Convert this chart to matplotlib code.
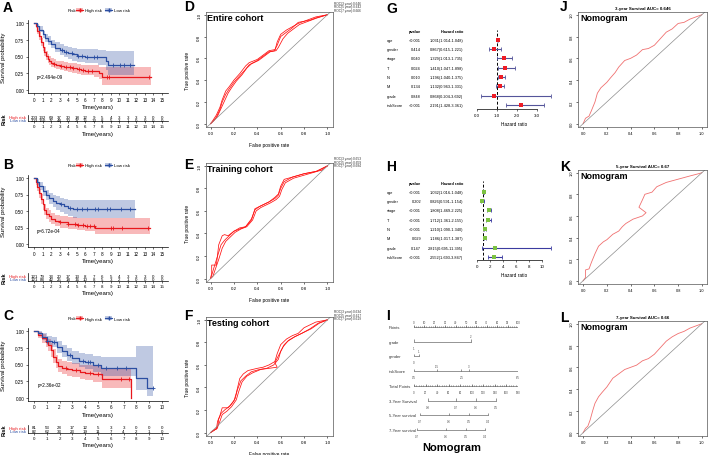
import numpy as np
import matplotlib
matplotlib.use('Agg')
import matplotlib.pyplot as plt
from matplotlib.patches import Patch
from matplotlib.lines import Line2D
from matplotlib.transforms import blended_transform_factory as blend

plt.rcParams['font.family'] = ['Liberation Sans', 'DejaVu Sans']
plt.rcParams['axes.linewidth'] = 0.5

W, H = 709, 456
RED = '#E8171C'
BLUE = '#2B4EA2'

# ---------------- survival curves (time, surv, lower, upper, end, censor) ----------------
A_hi_t = [0, 0.2, 0.4, 0.6, 0.8, 1.0, 1.2, 1.4, 1.6, 1.8, 2.0, 2.3, 2.6, 3.0, 3.5, 4.0, 4.5, 5.0, 5.5, 6.0, 7.0, 7.6, 8.0]
A_hi_s = [1.0, 0.95, 0.88, 0.80, 0.72, 0.64, 0.57, 0.51, 0.47, 0.44, 0.41, 0.39, 0.37, 0.36, 0.35, 0.34, 0.33, 0.31, 0.30, 0.29, 0.28, 0.25, 0.20]
A_hi_lo = [1.0, 0.92, 0.84, 0.75, 0.66, 0.58, 0.51, 0.45, 0.41, 0.38, 0.35, 0.33, 0.31, 0.30, 0.28, 0.27, 0.26, 0.24, 0.23, 0.22, 0.20, 0.16, 0.08]
A_hi_up = [1.0, 0.98, 0.93, 0.86, 0.78, 0.71, 0.64, 0.58, 0.54, 0.51, 0.48, 0.46, 0.44, 0.43, 0.42, 0.41, 0.40, 0.39, 0.38, 0.37, 0.37, 0.35, 0.35]
A_hi_end = 13.7
A_hi_cens = [2.4, 3.2, 3.8, 4.2, 4.6, 5.3, 5.8, 6.3, 6.8, 8.5, 8.8, 13.5]
A_lo_t = [0, 0.3, 0.6, 1.0, 1.3, 1.6, 2.0, 2.5, 3.0, 3.5, 4.0, 4.5, 5.0, 6.0, 7.5, 8.4, 8.7]
A_lo_s = [1.0, 0.95, 0.90, 0.83, 0.78, 0.73, 0.68, 0.63, 0.60, 0.57, 0.55, 0.53, 0.51, 0.50, 0.49, 0.43, 0.37]
A_lo_lo = [1.0, 0.92, 0.86, 0.78, 0.72, 0.67, 0.62, 0.56, 0.52, 0.49, 0.47, 0.44, 0.42, 0.40, 0.38, 0.30, 0.23]
A_lo_up = [1.0, 0.98, 0.95, 0.88, 0.84, 0.80, 0.75, 0.71, 0.68, 0.66, 0.64, 0.62, 0.61, 0.61, 0.60, 0.58, 0.58]
A_lo_end = 11.7
A_lo_cens = [3.3, 3.8, 4.4, 5.2, 5.6, 6.2, 7.0, 7.4, 9.2, 10.1, 10.6, 11.3]
A_risk_hi = [203, 132, 69, 37, 30, 18, 12, 9, 5, 4, 3, 3, 3, 3, 0, 0]
A_risk_lo = [203, 150, 77, 48, 30, 27, 15, 13, 8, 5, 3, 1, 0, 0, 0, 0]

B_hi_t = [0, 0.2, 0.4, 0.6, 0.8, 1.0, 1.2, 1.4, 1.7, 2.0, 2.5, 3.0, 4.0, 5.0, 6.0, 7.2]
B_hi_s = [1.0, 0.94, 0.86, 0.77, 0.68, 0.60, 0.52, 0.46, 0.42, 0.38, 0.35, 0.33, 0.31, 0.29, 0.28, 0.25]
B_hi_lo = [1.0, 0.90, 0.80, 0.70, 0.60, 0.52, 0.44, 0.38, 0.34, 0.30, 0.27, 0.25, 0.23, 0.21, 0.19, 0.15]
B_hi_up = [1.0, 0.98, 0.92, 0.84, 0.76, 0.68, 0.61, 0.55, 0.51, 0.47, 0.44, 0.42, 0.41, 0.40, 0.40, 0.40]
B_hi_end = 13.6
B_hi_cens = [3.0, 4.0, 4.8, 5.2, 5.7, 6.2, 6.6, 7.0, 9.0, 9.3, 10.3, 13.4]
B_lo_t = [0, 0.3, 0.6, 1.0, 1.4, 1.8, 2.2, 2.6, 3.0, 3.5, 4.0, 4.6]
B_lo_s = [1.0, 0.94, 0.88, 0.80, 0.74, 0.69, 0.65, 0.62, 0.60, 0.57, 0.55, 0.53]
B_lo_lo = [1.0, 0.90, 0.82, 0.73, 0.66, 0.60, 0.56, 0.52, 0.49, 0.46, 0.43, 0.40]
B_lo_up = [1.0, 0.98, 0.94, 0.88, 0.82, 0.78, 0.75, 0.72, 0.70, 0.68, 0.67, 0.67]
B_lo_end = 11.8
B_lo_cens = [3.2, 4.2, 5.0, 5.6, 6.2, 7.1, 7.5, 8.6, 8.9, 10.2, 11.2]
B_risk_hi = [121, 79, 33, 20, 17, 13, 8, 7, 6, 5, 4, 3, 3, 3, 0, 0]
B_risk_lo = [121, 88, 42, 25, 18, 16, 10, 8, 5, 3, 2, 1, 0, 0, 0, 0]

C_hi_t = [0, 0.3, 0.6, 0.9, 1.1, 1.3, 1.5, 1.7, 1.9, 2.2, 2.6, 3.0, 3.6, 4.0, 4.6, 5.3, 7.6]
C_hi_s = [1.0, 0.95, 0.90, 0.84, 0.80, 0.72, 0.62, 0.54, 0.48, 0.45, 0.43, 0.41, 0.39, 0.37, 0.35, 0.28, 0.0]
C_hi_lo = [1.0, 0.90, 0.83, 0.76, 0.71, 0.62, 0.52, 0.44, 0.38, 0.35, 0.33, 0.31, 0.28, 0.26, 0.24, 0.15, 0.0]
C_hi_up = [1.0, 0.99, 0.96, 0.92, 0.89, 0.82, 0.73, 0.65, 0.59, 0.56, 0.54, 0.52, 0.50, 0.49, 0.48, 0.45, 0.0]
C_hi_end = 7.6
C_hi_cens = [2.5, 3.3, 4.4, 5.0, 6.8, 7.4]
C_lo_t = [0, 0.3, 0.6, 1.0, 1.4, 1.8, 2.2, 2.6, 3.0, 3.5, 4.0, 4.6, 5.2, 8.0, 8.8]
C_lo_s = [1.0, 0.97, 0.92, 0.86, 0.84, 0.76, 0.70, 0.64, 0.60, 0.56, 0.54, 0.50, 0.45, 0.30, 0.15]
C_lo_lo = [1.0, 0.93, 0.87, 0.80, 0.77, 0.68, 0.61, 0.55, 0.51, 0.46, 0.43, 0.39, 0.33, 0.12, 0.02]
C_lo_up = [1.0, 1.0, 0.97, 0.93, 0.91, 0.85, 0.80, 0.75, 0.71, 0.68, 0.66, 0.63, 0.61, 0.78, 0.78]
C_lo_end = 9.3
C_lo_cens = [1.0, 1.6, 2.8, 3.8, 4.2, 4.4, 5.0, 5.6, 6.5, 7.2, 9.3]
C_risk_hi = [81, 53, 28, 17, 12, 5, 3, 3, 0, 0, 0]
C_risk_lo = [82, 62, 33, 23, 19, 11, 7, 4, 2, 1, 0]

# ---------------- ROC curves ----------------
D3_f = [0, .02, .05, .08, .10, .13, .16, .20, .25, .30, .33, .40, .45, .50, .55, .57, .60, .65, .70, .75, .80, .85, .90, 1.0]
D3_t = [0, .03, .08, .15, .22, .30, .34, .40, .46, .53, .56, .59, .63, .67, .68, .72, .80, .84, .88, .93, .94, .95, .97, 1.0]
D5_f = [0, .02, .05, .08, .10, .13, .16, .20, .25, .30, .33, .40, .45, .50, .55, .57, .60, .65, .70, .75, .80, .85, .90, 1.0]
D5_t = [0, .02, .06, .13, .20, .27, .32, .38, .44, .50, .54, .58, .62, .66, .67, .75, .82, .86, .89, .92, .94, .96, .98, 1.0]
D7_f = [0, .03, .06, .09, .12, .15, .18, .22, .27, .31, .35, .41, .46, .51, .56, .58, .62, .66, .71, .76, .81, .86, .91, 1.0]
D7_t = [0, .03, .07, .14, .21, .28, .33, .39, .45, .51, .55, .58, .62, .66, .67, .70, .78, .83, .87, .91, .93, .95, .97, 1.0]
D_auc = ['0.646', '0.642', '0.666']

E3_f = [0, .01, .01, .05, .07, .10, .12, .15, .20, .25, .30, .35, .38, .42, .50, .55, .58, .60, .63, .70, .80, .90, .95, 1.0]
E3_t = [0, .05, .12, .12, .30, .38, .39, .38, .42, .45, .46, .52, .62, .64, .68, .72, .75, .82, .88, .90, .93, .95, .96, 1.0]
E5_f = [0, .01, .03, .06, .09, .12, .16, .20, .25, .30, .35, .38, .42, .50, .55, .58, .60, .63, .70, .80, .90, 1.0]
E5_t = [0, .03, .10, .20, .30, .34, .38, .42, .44, .46, .53, .61, .64, .68, .71, .74, .80, .86, .90, .93, .95, 1.0]
E7_f = [0, .02, .04, .07, .10, .13, .17, .21, .26, .31, .36, .39, .43, .51, .56, .59, .61, .64, .71, .81, .91, 1.0]
E7_t = [0, .02, .08, .17, .27, .33, .37, .41, .44, .46, .52, .60, .63, .67, .70, .73, .79, .85, .89, .92, .95, 1.0]
E_auc = ['0.653', '0.659', '0.684']

F3_f = [0, .02, .05, .06, .08, .10, .15, .20, .22, .25, .28, .32, .40, .45, .50, .55, .57, .60, .65, .70, .75, .80, .90, 1.0]
F3_t = [0, .02, .03, .10, .15, .22, .22, .28, .35, .48, .52, .55, .57, .58, .60, .63, .70, .78, .83, .86, .88, .93, .98, 1.0]
F5_f = [0, .03, .06, .07, .09, .12, .17, .21, .23, .26, .30, .35, .42, .48, .54, .58, .60, .63, .67, .72, .78, .85, .92, 1.0]
F5_t = [0, .02, .04, .12, .17, .20, .24, .30, .38, .46, .50, .54, .56, .57, .60, .65, .72, .78, .82, .85, .88, .92, .97, 1.0]
F7_f = [0, .03, .06, .08, .10, .14, .18, .22, .24, .27, .31, .36, .43, .50, .57, .55, .58, .62, .66, .72, .78, .86, .93, 1.0]
F7_t = [0, .02, .05, .10, .16, .19, .23, .29, .36, .45, .50, .53, .56, .57, .58, .62, .68, .76, .81, .85, .88, .92, .97, 1.0]
F_auc = ['0.634', '0.617', '0.619']

J_f = [0, .02, .05, .07, .10, .12, .15, .20, .23, .27, .30, .35, .40, .45, .50, .55, .60, .65, .70, .75, .80, .85, .90, .95, 1.0]
J_t = [0, .05, .07, .12, .20, .28, .33, .38, .42, .47, .52, .58, .60, .63, .68, .69, .72, .78, .84, .87, .92, .93, .96, .98, 1.0]
K_f = [0, .02, .02, .05, .07, .10, .13, .17, .20, .25, .30, .33, .36, .42, .50, .53, .47, .50, .52, .58, .62, .70, .80, .90, .97, 1.0]
K_t = [0, .03, .10, .11, .17, .25, .32, .36, .38, .43, .46, .50, .53, .57, .60, .63, .68, .75, .80, .82, .87, .91, .94, .97, .99, 1.0]
L_f = [0, .02, .04, .06, .08, .10, .13, .16, .20, .25, .30, .35, .40, .45, .50, .55, .60, .65, .70, .75, .80, .85, .90, .95, 1.0]
L_t = [0, .04, .06, .12, .20, .27, .33, .37, .42, .50, .54, .58, .60, .62, .66, .68, .72, .78, .84, .88, .91, .93, .96, .98, 1.0]

# ---------------- forest plots ----------------
vars_ = ['age', 'gender', 'stage', 'T', 'N', 'M', 'grade', 'riskScore']
G_p = ['<0.001', '0.414', '0.040', '0.024', '0.010', '0.134', '0.848', '<0.001']
G_hr = [1.031, 0.867, 1.329, 1.410, 1.196, 1.132, 0.868, 2.191]
G_lo = [1.014, 0.615, 1.013, 1.047, 1.040, 0.963, 0.204, 1.428]
G_hi = [1.048, 1.221, 1.735, 1.898, 1.375, 1.331, 3.692, 3.361]
H_p = ['<0.001', '0.202', '<0.001', '<0.001', '<0.001', '0.029', '0.147', '<0.001']
H_hr = [1.032, 0.826, 1.808, 1.712, 1.210, 1.186, 2.815, 2.552]
H_lo = [1.016, 0.591, 1.469, 1.361, 1.090, 1.017, 0.695, 1.693]
H_hi = [1.048, 1.154, 2.225, 2.155, 1.340, 1.387, 11.395, 3.847]

# ---------------- nomogram ----------------
nomo_names = ['Points', 'grade', 'gender', 'riskScore', 'Total Points',
              '3-Year Survival', '5-Year survival', '7-Year survival']
points_ticks = [0, 10, 20, 30, 40, 50, 60, 70, 80, 90, 100]
grade_pos = [0, 54.8]; grade_lab = ['1', '2']
gender_pos = [0, 4.8]; gender_lab = ['0', '1']
risk_pos = [0, 22, 45.5, 53, 100]; risk_lab = ['0.5', '1.5', '2.5', '3', '6.5']
total_ticks = [0, 20, 40, 60, 80, 100, 120, 140, 160, 180]
s3_pos = [13.5, 40.4, 59.6, 78.8]; s3_lab = ['0.8', '0.7', '0.6', '0.5']
s5_pos = [5.8, 33.7, 52.9, 71.2]; s5_lab = ['0.7', '0.6', '0.5', '0.4']
s7_pos = [2.9, 30.8, 50.0, 68.3]; s7_lab = ['0.7', '0.6', '0.5', '0.4']

fig = plt.figure(figsize=(W / 100, H / 100), dpi=100)


def box(x0, y0, x1, y1):
    return [x0 / W, 1 - y1 / H, (x1 - x0) / W, (y1 - y0) / H]


def ftext(x, y, s, **kw):
    fig.text(x / W, 1 - y / H, s, **kw)


def step_curve(ax, t, s, lo, up, end, cens, col):
    te = list(t) + [end]
    se = list(s) + [s[-1]]
    ax.fill_between(te, list(lo) + [lo[-1]], list(up) + [up[-1]], step='post',
                    color=col, alpha=0.3, lw=0)
    ax.step(te, se, where='post', color=col, lw=0.9)
    idx = np.searchsorted(t, cens, side='right') - 1
    ax.plot(cens, np.array(s)[idx], '+', color=col, ms=2.5, mew=0.6)


def km_panel(letter, ly, y0, y1, ty0, ty1, tmax, curves, pval, rhi, rlo):
    ax = fig.add_axes(box(27.6, y0, 168.4, y1))
    for c in curves:
        step_curve(ax, *c)
    ax.set_xlim(-0.05 * tmax, 1.05 * tmax)
    ax.set_ylim(-0.05, 1.05)
    ax.set_xticks(range(tmax + 1))
    ax.set_yticks([0, 0.25, 0.5, 0.75, 1.0])
    ax.set_yticklabels(['0.00', '0.25', '0.50', '0.75', '1.00'])
    ax.tick_params(labelsize=3.3, length=1.5, width=0.4, pad=1)
    for sp in ['top', 'right']:
        ax.spines[sp].set_visible(False)
    ax.set_xlabel('Time(years)', fontsize=4.3)
    ax.xaxis.set_label_coords(0.5, -(y1 + 11 - y1) / (y1 - y0))
    ax.set_ylabel('Survival probability', fontsize=4.3)
    ax.yaxis.set_label_coords(-(27.6 - 6) / 140.8, 0.5)
    ax.text(0.3, 0.2, pval, fontsize=3.3, ha='left', va='center')
    ftext(3, ly, letter, fontsize=10, fontweight='bold', va='center')
    # legend
    hs = [(Patch(facecolor=RED, alpha=0.3), Line2D([], [], color=RED, marker='+', ms=2.5, lw=0.8)),
          (Patch(facecolor=BLUE, alpha=0.3), Line2D([], [], color=BLUE, marker='+', ms=2.5, lw=0.8))]
    lg = ax.legend(hs, ['High risk', 'Low risk'], ncol=2, frameon=False, fontsize=3.2,
                   loc='center', bbox_to_anchor=(103 / W, 1 - (y0 - 9.5) / H),
                   bbox_transform=fig.transFigure, handlelength=1.6, handleheight=0.9,
                   columnspacing=0.8, handletextpad=0.3)
    ftext(68, y0 - 9.5, 'Risk', fontsize=3.2, va='center')
    # risk table
    tb = fig.add_axes(box(27.6, ty0, 168.4, ty1))
    tb.set_xlim(-0.05 * tmax, 1.05 * tmax)
    tb.set_ylim(0.45, 2.7)
    for i, (a, b) in enumerate(zip(rhi, rlo)):
        tb.text(i, 2, str(a), fontsize=3.2, ha='center', va='center')
        tb.text(i, 1, str(b), fontsize=3.2, ha='center', va='center')
    tb.set_xticks(range(tmax + 1))
    tb.set_yticks([2, 1])
    tb.set_yticklabels(['High risk', 'Low risk'])
    tb.get_yticklabels()[0].set_color(RED)
    tb.get_yticklabels()[1].set_color(BLUE)
    tb.tick_params(labelsize=3.2, length=1.2, width=0.4, pad=1)
    tb.tick_params(axis='y', length=0)
    for sp in ['top', 'right']:
        tb.spines[sp].set_visible(False)
    tb.set_xlabel('Time(years)', fontsize=4.3)
    tb.xaxis.set_label_coords(0.5, -9.5 / (ty1 - ty0))
    ftext(4, (ty0 + ty1) / 2, 'Risk', fontsize=4, fontweight='bold', rotation=90,
          ha='center', va='center')


km_panel('A', 8, 20.6, 94.4, 115.6, 122.3, 15,
         [(A_hi_t, A_hi_s, A_hi_lo, A_hi_up, A_hi_end, A_hi_cens, RED),
          (A_lo_t, A_lo_s, A_lo_lo, A_lo_up, A_lo_end, A_lo_cens, BLUE)],
         'p=2.494e-09', A_risk_hi, A_risk_lo)
km_panel('B', 165, 175.7, 248.3, 274.3, 281.7, 15,
         [(B_hi_t, B_hi_s, B_hi_lo, B_hi_up, B_hi_end, B_hi_cens, RED),
          (B_lo_t, B_lo_s, B_lo_lo, B_lo_up, B_lo_end, B_lo_cens, BLUE)],
         'p=6.72e-04', B_risk_hi, B_risk_lo)
km_panel('C', 316, 329.0, 402.0, 426.0, 433.6, 10,
         [(C_hi_t, C_hi_s, C_hi_lo, C_hi_up, C_hi_end, C_hi_cens, RED),
          (C_lo_t, C_lo_s, C_lo_lo, C_lo_up, C_lo_end, C_lo_cens, BLUE)],
         'p=2.36e-02', C_risk_hi, C_risk_lo)


def roc_axes(x0, y0, x1, y1, curves, col, lw, lsize):
    ax = fig.add_axes(box(x0, y0, x1, y1))
    for f, t in curves:
        ax.plot(f, t, color=col, lw=lw)
    ax.axline((0, 0), (1, 1), color='#8C8C8C', lw=0.5)
    ax.set_xlim(-0.043, 1.043)
    ax.set_ylim(-0.03, 1.025)
    tk = [0, 0.2, 0.4, 0.6, 0.8, 1.0]
    lab = ['0.0', '0.2', '0.4', '0.6', '0.8', '1.0']
    ax.set_xticks(tk)
    ax.set_xticklabels(lab)
    ax.set_yticks(tk)
    ax.set_yticklabels(lab, rotation=90, va='center')
    ax.tick_params(labelsize=lsize, length=1.5, width=0.4, pad=1.5)
    for sp in ax.spines.values():
        sp.set_color('#555555')
    return ax


roc_sets = [
    ('D', 7, 13, 128, 'Entire cohort', [(D3_f, D3_t), (D5_f, D5_t), (D7_f, D7_t)], D_auc, 4.0),
    ('E', 165, 164, 283, 'Training cohort', [(E3_f, E3_t), (E5_f, E5_t), (E7_f, E7_t)], E_auc, 159.3),
    ('F', 316, 318, 437, 'Testing cohort', [(F3_f, F3_t), (F5_f, F5_t), (F7_f, F7_t)], F_auc, 312.5),
]
for letter, ly, y0, y1, name, curves, aucs, legy in roc_sets:
    ax = roc_axes(205.5, y0, 332.5, y1, curves, '#FF1010', 0.55, 3.2)
    ax.text(0.01, 0.99, name, transform=ax.transAxes, fontsize=6.5, fontweight='bold',
            ha='left', va='top')
    ax.set_xlabel('False positive rate', fontsize=3.5, labelpad=5)
    ax.set_ylabel('True positive rate', fontsize=3.5, labelpad=5)
    ftext(184, ly, letter, fontsize=10, fontweight='bold', va='center')
    for k, (yr, a) in enumerate(zip([3, 5, 7], aucs)):
        ftext(333.5, legy + 3.3 * k, 'ROC(%d year):%s' % (yr, a), fontsize=2.3, va='center',
              color='#333333')


def forest(letter, ly, y0, y1, ylo, yhi, hr, lo, hi, pv, ptcol, barcol, ticks, ticklab):
    ax = fig.add_axes(box(477, y0, 551, y1))
    ypos = np.arange(len(hr), 0, -1)
    ax.axvline(1, ls=(0, (3, 2)), color='black', lw=0.7)
    ax.errorbar(hr, ypos, xerr=[np.array(hr) - np.array(lo), np.array(hi) - np.array(hr)],
                fmt='none', ecolor=barcol, elinewidth=0.8, capsize=1.3, capthick=0.6)
    ax.plot(hr, ypos, 's', color=ptcol, ms=2.8, mew=0)
    ax.set_xlim(0, max(hi))
    ax.set_ylim(ylo, yhi)
    ax.set_yticks([])
    for sp in ['top', 'right', 'left']:
        ax.spines[sp].set_visible(False)
    ax.spines['bottom'].set_bounds(ticks[0], ticks[-1])
    ax.set_xticks(ticks)
    ax.set_xticklabels(ticklab)
    ax.tick_params(labelsize=3.2, length=1.5, width=0.4, pad=1.5)
    ax.set_xlabel('Hazard ratio', fontsize=3.4, labelpad=3)
    tr = blend(fig.transFigure, ax.transData)
    hdr = len(hr) + 0.97
    ax.text(421 / W, hdr, 'pvalue', transform=tr, fontsize=2.8, fontweight='bold', ha='right', va='center')
    ax.text(463 / W, hdr, 'Hazard ratio', transform=tr, fontsize=2.8, fontweight='bold', ha='right', va='center')
    for y, v, p, h, l, u in zip(ypos, vars_, pv, hr, lo, hi):
        ax.text(387 / W, y, v, transform=tr, fontsize=2.8, ha='left', va='center')
        ax.text(421 / W, y, p, transform=tr, fontsize=2.8, ha='right', va='center')
        ax.text(463 / W, y, '%.3f(%.3f-%.3f)' % (h, l, u), transform=tr, fontsize=2.8,
                ha='right', va='center')
    ftext(386, ly, letter, fontsize=10, fontweight='bold', va='center')


forest('G', 9, 31, 110, 0.571, 9.04, G_hr, G_lo, G_hi, G_p, '#EE1C25', '#55559A',
       [0, 1, 2, 3], ['0.0', '1.0', '2.0', '3.0'])
forest('H', 167, 182, 261, 0.68, 9.15, H_hr, H_lo, H_hi, H_p, '#7CC242', '#3B3BA0',
       [0, 2, 4, 6, 8, 10], ['0', '2', '4', '6', '8', '10'])

# ---------------- nomogram ----------------
nx = fig.add_axes(box(414, 319, 518, 440))
nx.set_xlim(0, 100)
nx.set_ylim(7.6, -0.6)
nx.axis('off')
tr = blend(fig.transFigure, nx.transData)
for i, nm in enumerate(nomo_names):
    nx.text(389 / W, i, nm, transform=tr, fontsize=3, ha='left', va='center', color='#333333')
ck = dict(color='#444444', lw=0.4)


def scale(row, pos, labs, side, minor=None):
    pos = list(pos)
    nx.plot([pos[0], pos[-1]], [row, row], **ck)
    if minor is not None:
        nx.vlines(minor, row - 0.08, row, **ck)
    for k, (p, s) in enumerate(zip(pos, labs)):
        sd = side if side != 'alt' else ('below' if k % 2 == 0 else 'above')
        nx.vlines(p, row - 0.15, row, **ck)
        yy = row - 0.35 if sd == 'above' else row + 0.4
        nx.text(p, yy, s, fontsize=2, ha='center', va='center', color='#444444')


scale(0, points_ticks, [str(v) for v in points_ticks], 'above', minor=np.arange(0, 101, 2))
scale(1, grade_pos, grade_lab, 'alt')
scale(2, gender_pos, gender_lab, 'alt')
scale(3, risk_pos, risk_lab, 'alt')
scale(4, [v * 100 / 180 for v in total_ticks], [str(v) for v in total_ticks], 'below',
      minor=np.arange(0, 101, 100 / 45))
scale(5, s3_pos, s3_lab, 'below')
scale(6, s5_pos, s5_lab, 'below')
scale(7, s7_pos, s7_lab, 'below')
ftext(452, 448, 'Nomogram', fontsize=8, fontweight='bold', ha='center', va='center')
ftext(386, 316, 'I', fontsize=10, fontweight='bold', va='center')

# ---------------- nomogram ROC ----------------
jkl = [('J', 7, 13, 128, '3-year Survival AUC= 0.646', J_f, J_t),
       ('K', 167, 171, 285, '5-year Survival AUC= 0.67', K_f, K_t),
       ('L', 318, 322, 437, '7-year Survival AUC= 0.66', L_f, L_t)]
for letter, ly, y0, y1, title, f, t in jkl:
    ax = roc_axes(578, y0, 707, y1, [(f, t)], '#F07070', 0.6, 2.8)
    ax.set_title(title, fontsize=3.2, fontweight='bold', pad=2.5)
    ax.text(0.015, 0.99, 'Nomogram', transform=ax.transAxes, fontsize=6.5, fontweight='bold',
            ha='left', va='top')
    ftext(560, ly, letter, fontsize=10, fontweight='bold', va='center')

fig.savefig('out.png', dpi=100)
